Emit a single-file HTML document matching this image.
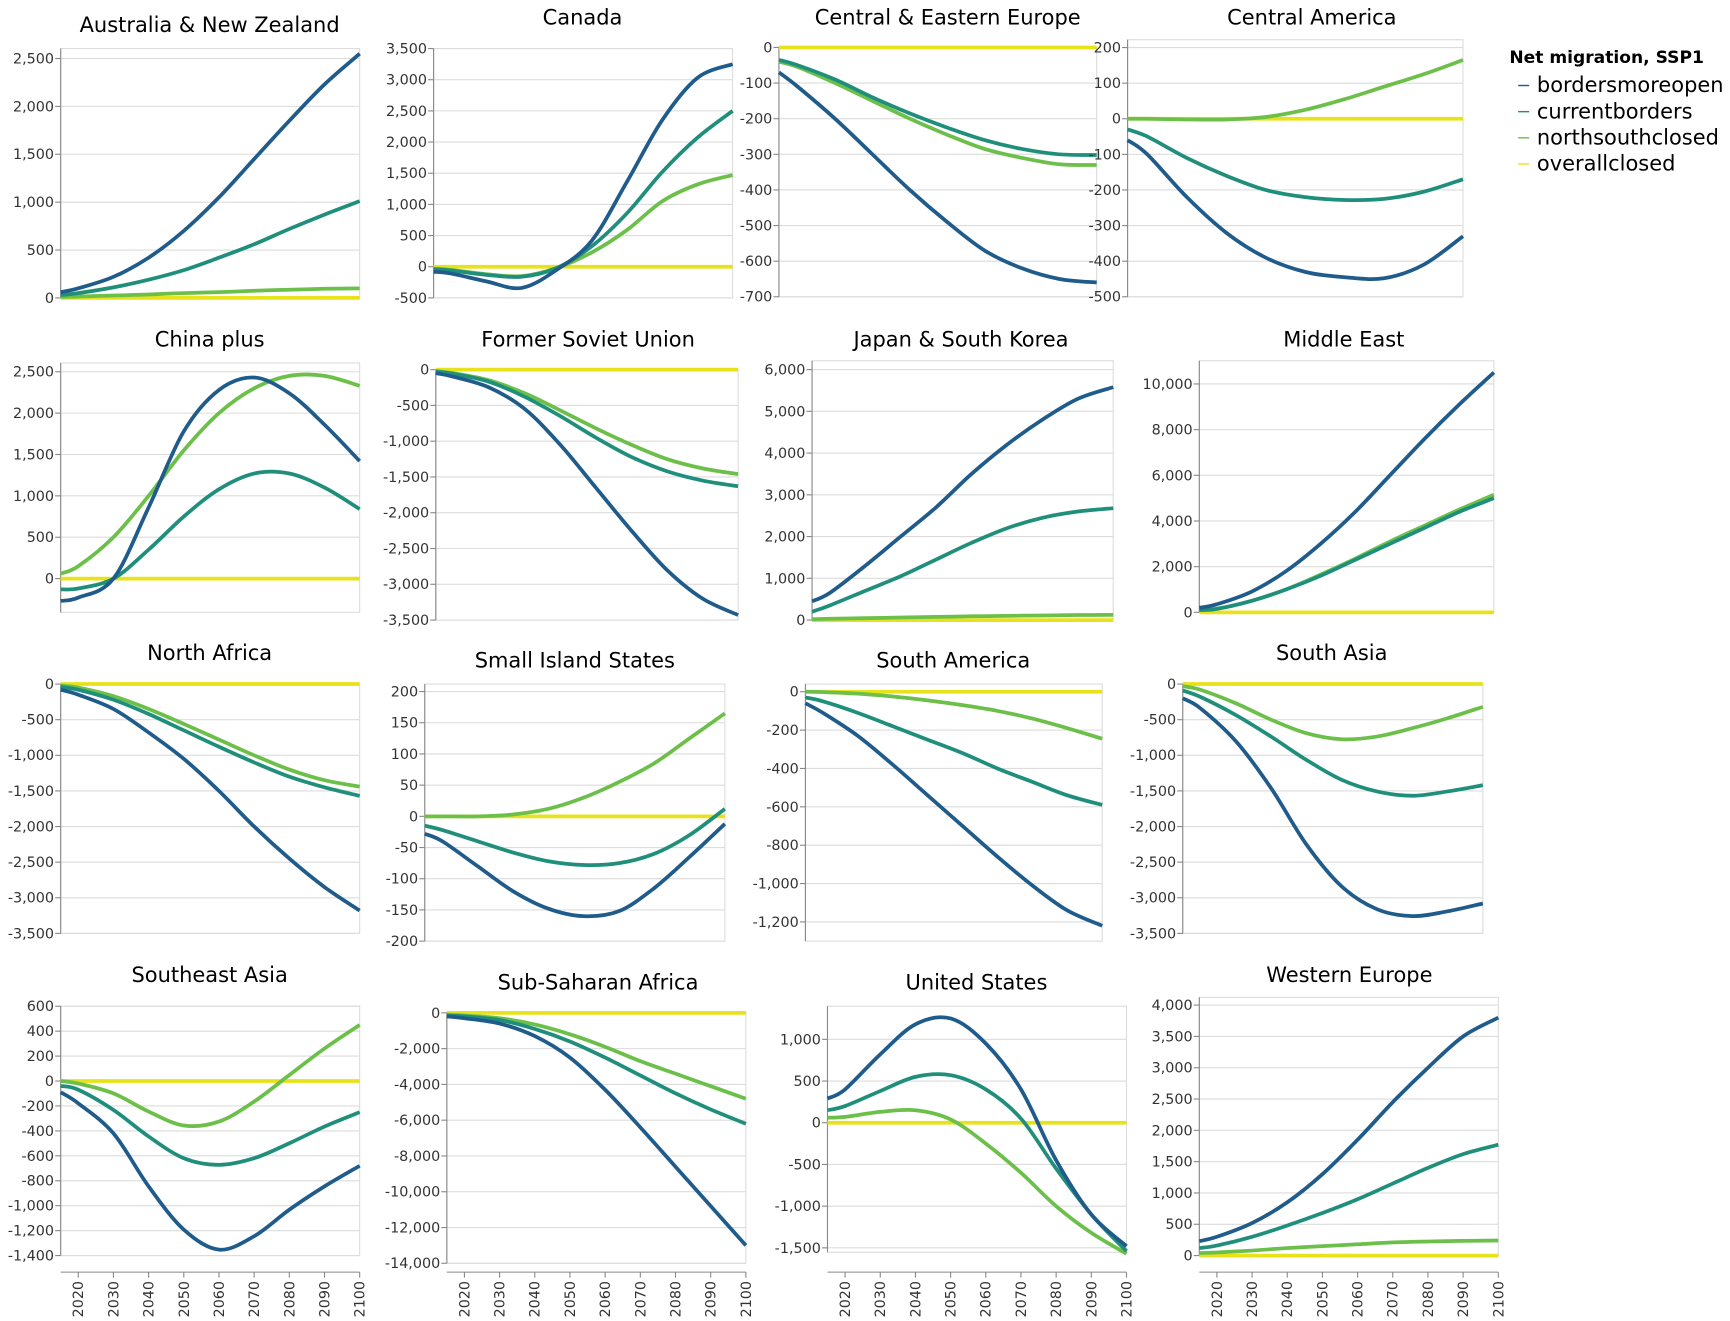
<!DOCTYPE html>
<html><head><meta charset="utf-8"><style>
html,body{margin:0;padding:0;background:#fff;}
svg{display:block;font-family:"DejaVu Sans","Liberation Sans",sans-serif;}
</style></head><body>
<svg id="chart" width="1730" height="1321" viewBox="0 0 1568 1197.3" preserveAspectRatio="none" xmlns="http://www.w3.org/2000/svg">
<g id="legend">
<text x="1368" y="57" font-size="15.5" font-weight="bold" fill="#000">Net migration, SSP1</text>
</g>
</svg>
<script>
const years=[2015,2020,2030,2040,2050,2060,2070,2080,2090,2100];
const seriesNames=["bordersmoreopen","currentborders","northsouthclosed","overallclosed"];
const colors=["#1f5c8b","#1f8f7c","#6cc04a","#e8e21a"];

const ausOpen=[60,100,220,420,700,1050,1450,1850,2230,2550];
const ausCur=[30,50,110,190,290,420,560,720,870,1010];
const ausNsc=[10,15,25,35,50,60,75,85,95,100];
const canOpen=[-80,-110,-235,-340,-50,420,1366,2353,3030,3250];
const canCur=[-40,-60,-130,-160,-20,330,860,1520,2070,2500];
const canNsc=[-30,-50,-120,-150,-20,230,590,1050,1320,1470];
const ceeOpen=[-70,-110,-200,-300,-400,-490,-570,-620,-650,-660];
const ceeCur=[-35,-50,-90,-140,-185,-225,-260,-285,-300,-302];
const ceeNsc=[-40,-55,-100,-150,-200,-245,-285,-310,-328,-330];
const camOpen=[-60,-100,-220,-320,-390,-430,-445,-448,-410,-330];
const camCur=[-30,-50,-110,-160,-200,-220,-228,-225,-205,-170];
const camNsc=[0,0,-2,-2,5,25,55,90,125,165];
const chnOpen=[-270,-230,0,860,1780,2280,2430,2240,1860,1420];
const chnCur=[-130,-120,0,350,750,1080,1270,1270,1100,840];
const chnNsc=[60,150,500,1000,1550,2000,2300,2450,2450,2330];
const fsuOpen=[-50,-100,-250,-550,-1050,-1650,-2250,-2800,-3200,-3430];
const fsuCur=[-30,-60,-170,-380,-650,-950,-1220,-1420,-1550,-1630];
const fsuNsc=[-20,-50,-150,-330,-570,-820,-1050,-1250,-1380,-1460];
const jpnOpen=[450,650,1300,2000,2700,3500,4200,4800,5300,5580];
const jpnCur=[200,350,700,1050,1450,1850,2200,2450,2600,2680];
const jpnNsc=[20,30,45,60,75,90,100,110,120,125];
const meOpen=[200,350,900,1800,3000,4400,6000,7600,9100,10500];
const meCur=[100,150,500,1000,1600,2300,3000,3700,4400,5000];
const meNsc=[100,150,500,1000,1650,2350,3100,3800,4500,5150];
const nafOpen=[-80,-150,-350,-680,-1050,-1500,-2000,-2450,-2850,-3180];
const nafCur=[-40,-80,-220,-420,-650,-880,-1100,-1300,-1450,-1570];
const nafNsc=[-20,-50,-170,-350,-560,-780,-1000,-1200,-1350,-1440];
const sisOpen=[-28,-40,-80,-120,-148,-160,-152,-115,-65,-12];
const sisCur=[-15,-22,-40,-58,-72,-78,-75,-60,-30,12];
const sisNsc=[0,0,0,3,12,30,55,85,125,165];
const samOpen=[-60,-110,-230,-380,-540,-700,-860,-1010,-1140,-1220];
const samCur=[-30,-50,-110,-180,-250,-320,-400,-470,-540,-590];
const samNsc=[0,-2,-10,-25,-45,-70,-100,-140,-190,-245];
const sasOpen=[-200,-340,-800,-1460,-2250,-2840,-3160,-3257,-3190,-3080];
const sasCur=[-90,-180,-434,-737,-1064,-1344,-1507,-1568,-1507,-1420];
const sasNsc=[-30,-80,-270,-500,-690,-775,-737,-620,-480,-320];
const seaOpen=[-90,-179,-420,-845,-1192,-1352,-1245,-1032,-845,-680];
const seaCur=[-40,-70,-232,-445,-619,-672,-619,-499,-365,-250];
const seaNsc=[0,-20,-99,-245,-357,-325,-165,48,261,450];
const ssaOpen=[-200,-300,-600,-1300,-2500,-4300,-6400,-8600,-10800,-13000];
const ssaCur=[-150,-200,-400,-900,-1600,-2500,-3500,-4500,-5400,-6200];
const ssaNsc=[-100,-150,-300,-650,-1200,-1900,-2700,-3400,-4100,-4800];
const usaOpen=[290,400,820,1180,1250,950,400,-450,-1100,-1480];
const usaCur=[150,200,380,550,570,400,50,-550,-1100,-1540];
const usaNsc=[60,70,130,150,40,-250,-600,-1000,-1320,-1570];
const weuOpen=[230,300,520,850,1300,1850,2450,3000,3500,3800];
const weuCur=[120,160,300,480,680,900,1150,1400,1620,1770];
const weuNsc=[40,50,80,120,150,180,210,225,235,240];
const zeros=[0,0,0,0,0,0,0,0,0,0];

const panelTitles=["Australia & New Zealand","Canada","Central & Eastern Europe","Central America","China plus","Former Soviet Union","Japan & South Korea","Middle East","North Africa","Small Island States","South America","South Asia","Southeast Asia","Sub-Saharan Africa","United States","Western Europe"];
const panelData=[[ausOpen,ausCur,ausNsc],[canOpen,canCur,canNsc],[ceeOpen,ceeCur,ceeNsc],[camOpen,camCur,camNsc],[chnOpen,chnCur,chnNsc],[fsuOpen,fsuCur,fsuNsc],[jpnOpen,jpnCur,jpnNsc],[meOpen,meCur,meNsc],[nafOpen,nafCur,nafNsc],[sisOpen,sisCur,sisNsc],[samOpen,samCur,samNsc],[sasOpen,sasCur,sasNsc],[seaOpen,seaCur,seaNsc],[ssaOpen,ssaCur,ssaNsc],[usaOpen,usaCur,usaNsc],[weuOpen,weuCur,weuNsc]];
const yDomains=[[0,2604],[-500,3500],[-700,0],[-500,222],[-408,2606],[-3500,0],[0,6211],[0,11014],[-3500,0],[-200,212],[-1300,40],[-3500,0],[-1400,600],[-14000,0],[-1553,1397],[0,4123]];
const tickSteps=[500,500,100,100,500,500,1000,2000,500,50,200,500,200,2000,500,500];
const xTicks=[2020,2030,2040,2050,2060,2070,2080,2090,2100];

// layout: [left,right,top,bottom,titleX,titleY]
const layout=[[55,326,44,270,190,29],[393,664,44,270,528,22],[706,994,43,269,859,22],[1022,1326,36,269,1189,22],
[55,326,329,555,190,314],[395,669,335,562,533,314],[736,1009,327,562,871,314],[1087,1354,327,555,1218,314],
[55,326,620,846,190,598],[385,657,620,853,521,605],[730,999,620,853,864,605],[1072,1344,620,846,1207,598],
[55,326,912,1138,190,890],[405,676,918,1145,542,897],[750,1021,912,1135,885,897],[1087,1358,904,1138,1223,890]];

const NS="http://www.w3.org/2000/svg";
const svg=document.getElementById("chart");
function mk(tag,attrs,parent){const e=document.createElementNS(NS,tag);for(const k in attrs)e.setAttribute(k,attrs[k]);parent.appendChild(e);return e;}
function fmt(v){if(Math.abs(v)<1e-9)v=0;return v.toLocaleString("en-US");}
function pathFrom(pts){
 let d="M"+pts[0][0].toFixed(2)+","+pts[0][1].toFixed(2);
 for(let i=0;i<pts.length-1;i++){
  const p0=pts[i-1]||pts[i],p1=pts[i],p2=pts[i+1],p3=pts[i+2]||p2;
  const c1=[p1[0]+(p2[0]-p0[0])/6,p1[1]+(p2[1]-p0[1])/6];
  const c2=[p2[0]-(p3[0]-p1[0])/6,p2[1]-(p3[1]-p1[1])/6];
  d+="C"+c1[0].toFixed(2)+","+c1[1].toFixed(2)+" "+c2[0].toFixed(2)+","+c2[1].toFixed(2)+" "+p2[0].toFixed(2)+","+p2[1].toFixed(2);
 }
 return d;
}
panelTitles.forEach((title,pi)=>{
 const [l,r,t,b,tx,ty]=layout[pi];
 const [dmin,dmax]=yDomains[pi];
 const xs=y=>l+(y-2015)/(2100-2015)*(r-l);
 const ys=v=>b-(v-dmin)/(dmax-dmin)*(b-t);
 const g=mk("g",{},svg);
 
 
 const tt=mk("text",{x:tx,y:ty,"font-size":19,"text-anchor":"middle",fill:"#000"},g);
 tt.textContent=title;
 
 
 const frame=mk("rect",{x:l,y:t,width:r-l,height:b-t,fill:"none",stroke:"#dcdcdc","stroke-width":1},g);
 
 
 const step=tickSteps[pi];
 for(let v=Math.ceil(dmin/step)*step;v<=dmax+1e-6;v+=step){
  const y=ys(v);
  const gl=mk("line",{x1:l,x2:r,y1:y,y2:y,stroke:"#dcdcdc","stroke-width":1},g);
  
  
  mk("line",{x1:l-5,x2:l,y1:y,y2:y,stroke:"#888","stroke-width":1},g);
  const lab=mk("text",{x:l-6,y:y+4.5,"font-size":13,"text-anchor":"end",fill:"#333"},g);
  lab.textContent=fmt(v);
  
  
 }
 const ax=mk("line",{x1:l,x2:l,y1:t,y2:b,stroke:"#888","stroke-width":1},g);
 
 
 const data=[panelData[pi][0],panelData[pi][1],panelData[pi][2],zeros];
 [3,2,1,0].forEach(si=>{
  const pts=years.map((yr,i)=>[xs(yr),ys(data[si][i])]);
  const p=mk("path",{d:pathFrom(pts),fill:"none",stroke:colors[si],"stroke-width":3.4,"stroke-linecap":"butt"},g);
  
  
 });
 if(pi>=12){
  const ay=1153;
  const xa=mk("line",{x1:l,x2:r,y1:ay,y2:ay,stroke:"#888","stroke-width":1},g);
  
  
  xTicks.forEach(yr=>{
   const x=xs(yr);
   mk("line",{x1:x,x2:x,y1:ay,y2:ay+5,stroke:"#888","stroke-width":1},g);
   const lab=mk("text",{x:x+4.5,y:ay+8,"font-size":13,"text-anchor":"end",fill:"#333",transform:"rotate(-90 "+(x+4.5)+" "+(ay+8)+")"},g);
   lab.textContent=yr;
   
   
  });
 }
});
const lg=document.getElementById("legend");
seriesNames.forEach((n,i)=>{
 const y=83.5+i*23.7;
 const dash=mk("line",{x1:1376,x2:1386,y1:y-6,y2:y-6,stroke:colors[i],"stroke-width":1.3},lg);
 
 
 const t=mk("text",{x:1393,y:y,"font-size":19,fill:"#000"},lg);
 t.textContent=n;
 
 
});
</script>
</body></html>
